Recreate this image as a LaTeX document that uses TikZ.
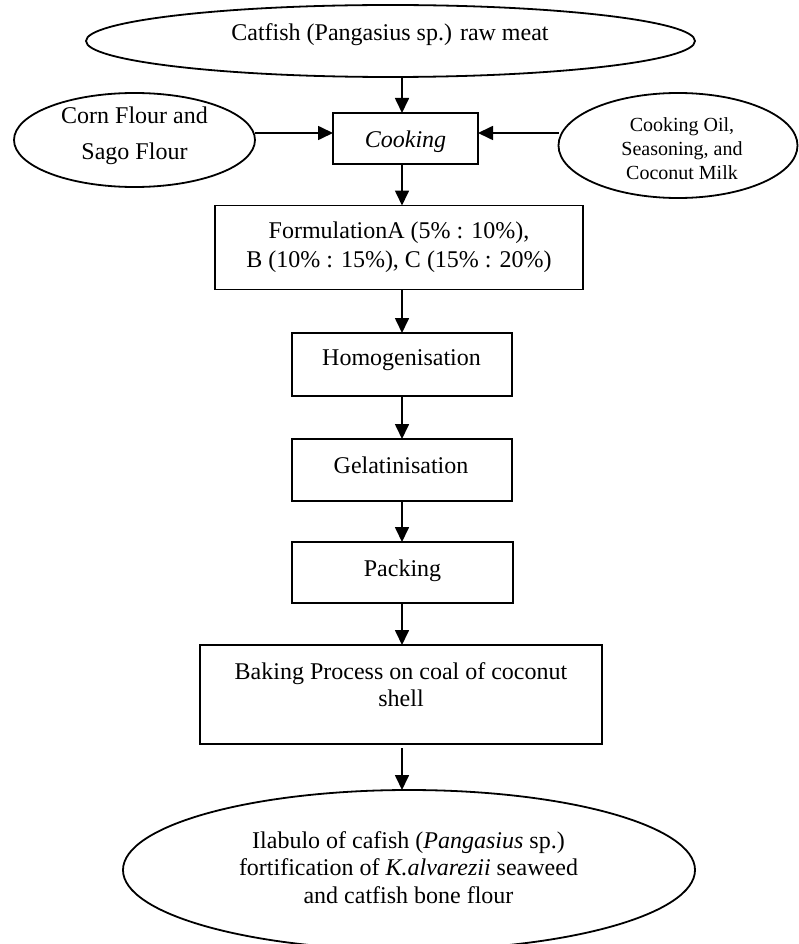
\documentclass[tikz,border=0pt]{standalone}
\usepackage{fontspec}
\setmainfont{Liberation Serif}
\usetikzlibrary{arrows.meta,shapes.geometric}
\begin{document}
\begin{tikzpicture}[x=1pt,y=-1pt,
  every node/.style={inner sep=0pt, outer sep=0pt},
  shapeline/.style={draw, line width=1.8pt},
  oval/.style={shapeline, ellipse},
  stepbox/.style={shapeline, rectangle},
  txt/.style={align=center, font=\fontsize{24}{27.6}\selectfont},
  arr/.style={line width=1.7pt, -{Triangle[length=15pt,width=14pt]}}
]
\useasboundingbox (0,0) rectangle (799,944);

% shapes
\node[oval, minimum width=609pt, minimum height=72pt] (top) at (390.5,41) {};
\node[oval, minimum width=241pt, minimum height=94pt] (lf) at (134.5,140) {};
\node[oval, minimum width=239pt, minimum height=105pt] (rt) at (678,145.5) {};
\node[stepbox, minimum width=145pt, minimum height=51pt] (cook) at (405.5,138.5) {};
\node[stepbox, minimum width=368pt, minimum height=84pt] (form) at (399,247.5) {};
\node[stepbox, minimum width=220pt, minimum height=63pt] (homo) at (402,364.5) {};
\node[stepbox, minimum width=220pt, minimum height=62pt] (gel) at (402,470) {};
\node[stepbox, minimum width=221pt, minimum height=61pt] (pack) at (402.5,572.5) {};
\node[stepbox, minimum width=402pt, minimum height=99pt] (bake) at (401,694.5) {};
\node[oval, minimum width=572pt, minimum height=160pt] (bot) at (409,870) {};

% texts
\node[txt] (topT) at (390,35) {Catfish (Pangasius sp.) raw meat};
\node[txt, font=\fontsize{24}{36}\selectfont] (lfT) at (134.5,135.7) {Corn Flour and\\Sago Flour};
\node[txt, font=\fontsize{20}{24}\selectfont] (rtT) at (682,148.9) {Cooking Oil,\\Seasoning, and\\Coconut Milk};
\node[txt] (cookT) at (405.5,142) {\itshape Cooking};
\node[txt, font=\fontsize{24}{29}\selectfont] (formT) at (399,247.3) {FormulationA (5\% : 10\%),\\B (10\% : 15\%), C (15\% : 20\%)};
\node[txt] (homoT) at (401.5,360.4) {Homogenisation};
\node[txt] (gelT) at (401,465) {Gelatinisation};
\node[txt] (packT) at (402.5,570.4) {Packing};
\node[txt, font=\fontsize{24}{27}\selectfont] (bakeT) at (401,684.5) {Baking Process on coal of coconut\\shell};
\node[txt, font=\fontsize{24}{27.4}\selectfont] (botT) at (408.5,867.3) {Ilabulo of cafish (\textit{Pangasius} sp.)\\fortification of \textit{K.alvarezii} seaweed\\and catfish bone flour};

% connectors
\coordinate (col) at (402,0);
\coordinate (row) at (0,133);
\draw[arr] (col |- top.south) -- (col |- cook.north);
\draw[arr] (lf.east |- row) -- (cook.west |- row);
\draw[arr] (rt.west |- row) -- (cook.east |- row);
\draw[arr] (col |- cook.south) -- (col |- form.north);
\draw[arr] (col |- form.south) -- (col |- homo.north);
\draw[arr] (col |- homo.south) -- (col |- gel.north);
\draw[arr] (col |- gel.south) -- (col |- pack.north);
\draw[arr] (col |- pack.south) -- (col |- bake.north);
\draw[arr, shorten <=4pt] (col |- bake.south) -- (col |- bot.north);
\end{tikzpicture}
\end{document}
